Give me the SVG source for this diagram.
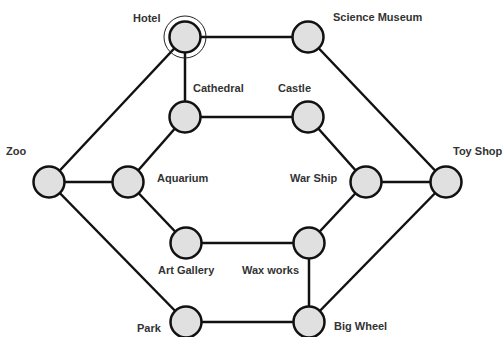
<svg xmlns="http://www.w3.org/2000/svg" width="503" height="337" viewBox="0 0 503 337">
<style>
.e{stroke:#111;stroke-width:2.5;fill:none}
.n{fill:#e0e0e0;stroke:#111;stroke-width:2.5}
.ring{fill:none;stroke:#222;stroke-width:1}
text{font-family:"Liberation Sans",Arial,sans-serif;font-weight:bold;font-size:11px;fill:#333}
</style>
<rect width="503" height="337" fill="#fff"/>
<g id="edges">
<line class="e" x1="185" y1="37" x2="308" y2="37"/>
<line class="e" x1="185" y1="37" x2="185" y2="117"/>
<line class="e" x1="185" y1="37" x2="49" y2="182"/>
<line class="e" x1="308" y1="37" x2="446" y2="182"/>
<line class="e" x1="185" y1="117" x2="308" y2="117"/>
<line class="e" x1="185" y1="117" x2="128" y2="182"/>
<line class="e" x1="308" y1="117" x2="366" y2="182"/>
<line class="e" x1="49" y1="182" x2="128" y2="182"/>
<line class="e" x1="49" y1="182" x2="186" y2="322"/>
<line class="e" x1="128" y1="182" x2="186" y2="243"/>
<line class="e" x1="366" y1="182" x2="446" y2="182"/>
<line class="e" x1="366" y1="182" x2="309" y2="243"/>
<line class="e" x1="186" y1="243" x2="309" y2="243"/>
<line class="e" x1="309" y1="243" x2="309" y2="322"/>
<line class="e" x1="186" y1="322" x2="309" y2="322"/>
<line class="e" x1="446" y1="182" x2="309" y2="322"/>
</g>
<g id="hotel"><circle class="ring" cx="185" cy="37" r="21"/><circle class="n" cx="185" cy="37" r="15.5"/><text x="133" y="22">Hotel</text></g>
<g id="science-museum"><circle class="n" cx="308" cy="37" r="15.5"/><text x="333" y="21">Science Museum</text></g>
<g id="cathedral"><circle class="n" cx="185" cy="117" r="15.5"/><text x="193" y="92">Cathedral</text></g>
<g id="castle"><circle class="n" cx="308" cy="117" r="15.5"/><text x="278" y="92">Castle</text></g>
<g id="zoo"><circle class="n" cx="49" cy="182" r="15.5"/><text x="6" y="155">Zoo</text></g>
<g id="aquarium"><circle class="n" cx="128" cy="182" r="15.5"/><text x="157" y="182">Aquarium</text></g>
<g id="war-ship"><circle class="n" cx="366" cy="182" r="15.5"/><text x="290" y="182">War Ship</text></g>
<g id="toy-shop"><circle class="n" cx="446" cy="182" r="15.5"/><text x="453" y="155">Toy Shop</text></g>
<g id="art-gallery"><circle class="n" cx="186" cy="243" r="15.5"/><text x="158" y="274">Art Gallery</text></g>
<g id="wax-works"><circle class="n" cx="309" cy="243" r="15.5"/><text x="242" y="274">Wax works</text></g>
<g id="park"><circle class="n" cx="186" cy="322" r="15.5"/><text x="137" y="332">Park</text></g>
<g id="big-wheel"><circle class="n" cx="309" cy="322" r="15.5"/><text x="334" y="330">Big Wheel</text></g>
</svg>
